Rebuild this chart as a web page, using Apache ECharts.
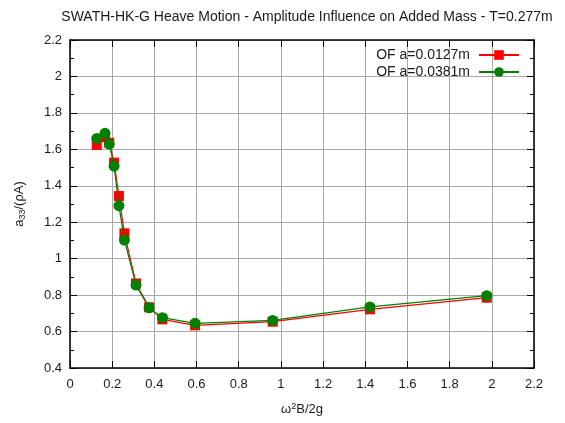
<!DOCTYPE html>
<html><head><meta charset="utf-8">
<script src="https://cdn.jsdelivr.net/npm/echarts@6/dist/echarts.min.js"></script>
<style>html,body{margin:0;padding:0;background:#fff}#c{width:565px;height:423px}</style>
</head><body><div id="c"></div>
<script>
const titleText = 'SWATH-HK-G Heave Motion - Amplitude Influence on Added Mass - T=0.277m';
const seriesNames = ['OF a=0.0127m', 'OF a=0.0381m'];
const xValues = [0.127, 0.166, 0.186, 0.209, 0.232, 0.258, 0.313, 0.375, 0.438, 0.593, 0.961, 1.422, 1.976];
const redValues = [1.624, 1.666, 1.636, 1.527, 1.344, 1.139, 0.864, 0.733, 0.667, 0.634, 0.654, 0.722, 0.786];
const greenValues = [1.660, 1.688, 1.629, 1.508, 1.291, 1.102, 0.855, 0.730, 0.676, 0.645, 0.661, 0.735, 0.797];

const font = 'Liberation Sans, Arial, sans-serif';
const pair = (xs, ys) => xs.map((x, i) => [x, ys[i]]);
const chart = echarts.init(document.getElementById('c'), null, {renderer: 'canvas'});
const gridColor = '#a8a8a8';
const axisBase = {
  axisLine: {show: true, onZero: false, lineStyle: {color: '#000', width: 1.5}},
  axisTick: {show: true, inside: true, length: 7, lineStyle: {color: '#000'}},
};
chart.setOption({
  animation: false,
  title: {text: titleText, left: 302, textAlign: 'center', top: 5,
    textStyle: {fontFamily: font, fontSize: 14, fontWeight: 'normal', color: '#1a1a1a'}},
  grid: {left: 70, right: 31, top: 40, bottom: 55, containLabel: false},
  legend: {
    right: 40, top: 43, orient: 'vertical', align: 'right', itemGap: 3,
    itemWidth: 40, itemHeight: 12,
    textStyle: {fontFamily: font, fontSize: 14, color: '#1a1a1a', padding: [0, 4, 0, 0]},
    data: seriesNames
  },
  xAxis: [
    Object.assign({}, axisBase, {
      type: 'value', min: 0, max: 2.2, interval: 0.2, position: 'bottom',
      axisLabel: {fontFamily: font, fontSize: 13, color: '#1a1a1a', margin: 10},
      splitLine: {show: true, lineStyle: {color: gridColor, width: 1}},
      name: '{a|ω}{s|2}{a|B/2g}', nameLocation: 'middle', nameGap: 34,
      nameTextStyle: {rich: {a: {fontFamily: font, fontSize: 13, color: '#1a1a1a'},
        s: {fontFamily: font, fontSize: 9, color: '#1a1a1a', verticalAlign: 'top', padding: [0, 0, 6, 0]}}}
    }),
    Object.assign({}, axisBase, {
      type: 'value', min: 0, max: 2.2, interval: 0.2, position: 'top',
      axisLabel: {show: false}, splitLine: {show: false}
    })
  ],
  yAxis: [
    Object.assign({}, axisBase, {
      type: 'value', min: 0.4, max: 2.2, interval: 0.2, position: 'left',
      axisLabel: {fontFamily: font, fontSize: 13, color: '#1a1a1a', margin: 8},
      minorTick: {show: true, splitNumber: 2, length: 4, lineStyle: {color: '#000'}},
      splitLine: {show: true, lineStyle: {color: gridColor, width: 1}},
      name: '{a|a}{s|33}{a|/(ρA)}', nameLocation: 'middle', nameGap: 43, nameRotate: 90,
      nameTextStyle: {rich: {a: {fontFamily: font, fontSize: 13, color: '#1a1a1a'},
        s: {fontFamily: font, fontSize: 9, color: '#1a1a1a', verticalAlign: 'bottom', padding: [6, 0, 0, 0]}}}
    }),
    Object.assign({}, axisBase, {
      type: 'value', min: 0.4, max: 2.2, interval: 0.2, position: 'right',
      axisLabel: {show: false}, splitLine: {show: false},
      minorTick: {show: true, splitNumber: 2, length: 4, lineStyle: {color: '#000'}}
    })
  ],
  series: [
    {name: seriesNames[0], type: 'line', data: pair(xValues, redValues),
      symbol: 'rect', symbolSize: 10, color: '#ff0000',
      lineStyle: {color: '#ff0000', width: 1.2}, itemStyle: {color: '#ff0000'}, z: 2},
    {name: seriesNames[1], type: 'line', data: pair(xValues, greenValues),
      symbol: 'circle', symbolSize: 11, color: '#008000',
      lineStyle: {color: '#008000', width: 1.2}, itemStyle: {color: '#008000'}, z: 3}
  ]
});
</script></body></html>
